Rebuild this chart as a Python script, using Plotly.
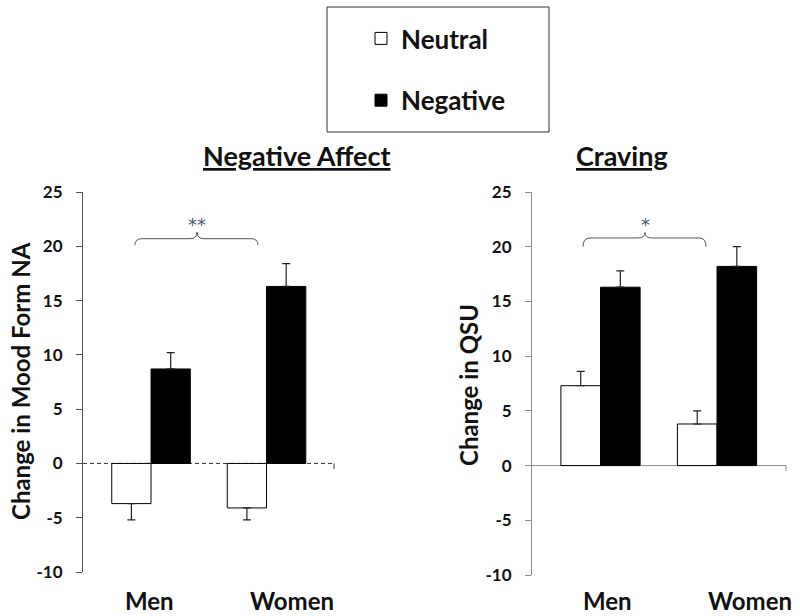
import plotly.graph_objects as go
from plotly.subplots import make_subplots

groups = ["Men", "Women"]
x_pos = [0, 1]

na_neutral = [-3.7, -4.1]
na_neutral_err = [1.5, 1.1]
na_negative = [8.7, 16.3]
na_negative_err = [1.5, 2.1]

qsu_neutral = [7.3, 3.8]
qsu_neutral_err = [1.3, 1.2]
qsu_negative = [16.3, 18.2]
qsu_negative_err = [1.5, 1.8]

y_ticks = [-10, -5, 0, 5, 10, 15, 20, 25]
y_tick_text = ["-10", "-5", "0", "5", "10", "15", "20", "25"]

FONT = "Lato"


def err_bars(values, errs):
    # one-sided bars, pointing away from zero
    plus = [e if v >= 0 else 0 for v, e in zip(values, errs)]
    minus = [e if v < 0 else 0 for v, e in zip(values, errs)]
    return dict(type="data", symmetric=False, array=plus, arrayminus=minus,
                color="#222222", thickness=1.2, width=4)


def brace(x0, x1, xm, ye, yf, yp, d):
    return (f"M{x0},{ye} Q{x0},{yf} {x0 + d},{yf} L{xm - d},{yf} "
            f"Q{xm},{yf} {xm},{yp} Q{xm},{yf} {xm + d},{yf} "
            f"L{x1 - d},{yf} Q{x1},{yf} {x1},{ye}")


fig = make_subplots(rows=1, cols=2)

panels = [
    (1, na_neutral, na_neutral_err, na_negative, na_negative_err),
    (2, qsu_neutral, qsu_neutral_err, qsu_negative, qsu_negative_err),
]
for col, neu, neu_err, neg, neg_err in panels:
    fig.add_trace(go.Bar(
        x=x_pos, y=neu, name="Neutral",
        marker=dict(color="white", line=dict(color="black", width=1)),
        error_y=err_bars(neu, neu_err),
        showlegend=(col == 1), legendgroup="neutral",
    ), row=1, col=col)
    fig.add_trace(go.Bar(
        x=x_pos, y=neg, name="Negative",
        marker=dict(color="black", line=dict(color="black", width=1)),
        error_y=err_bars(neg, neg_err),
        showlegend=(col == 1), legendgroup="negative",
    ), row=1, col=col)

axis_col = ["#505050", "#8a8a8a"]
x_ranges = [[-0.589, 1.584], [-0.588, 1.592]]
x_domains = [[83 / 800, 334 / 800], [532 / 800, 786 / 800]]
y_domains = [[44 / 616, 424 / 616], [41 / 616, 424 / 616]]

for i in range(2):
    fig.update_xaxes(range=x_ranges[i], domain=x_domains[i], visible=False,
                     row=1, col=i + 1)
    fig.update_yaxes(
        range=[-10, 25], tickvals=y_ticks, ticktext=y_tick_text,
        domain=y_domains[i],
        showgrid=False, zeroline=False, automargin=False,
        showline=True, linecolor=axis_col[i], linewidth=1,
        ticks="outside", ticklen=6, tickcolor=axis_col[i],
        ticklabelstandoff=10,
        tickfont=dict(family=FONT, size=17, color="#111111", weight="bold"),
        row=1, col=i + 1,
    )

# zero lines (dashed on the left panel) with end tick
fig.add_shape(type="line", xref="x domain", yref="y", x0=0, x1=1, y0=0, y1=0,
              line=dict(color="#333333", width=1, dash="4px,3px"), layer="below")
fig.add_shape(type="line", xref="x domain", yref="y", x0=1, x1=1, y0=0, y1=-0.5,
              line=dict(color="#333333", width=1))
fig.add_shape(type="line", xref="x2 domain", yref="y2", x0=0, x1=1, y0=0, y1=0,
              line=dict(color=axis_col[1], width=1), layer="below")
fig.add_shape(type="line", xref="x2 domain", yref="y2", x0=1, x1=1, y0=0, y1=-0.5,
              line=dict(color=axis_col[1], width=1))

# significance braces
fig.add_shape(type="path", xref="x", yref="y",
              path=brace(-0.139, 0.926, 0.398, 20.1, 20.7, 21.3, 0.06),
              line=dict(color="#555555", width=1))
fig.add_shape(type="path", xref="x2", yref="y2",
              path=brace(-0.150, 0.906, 0.382, 20.0, 20.8, 21.3, 0.06),
              line=dict(color="#555555", width=1))
fig.add_annotation(text="**", xref="x", yref="y", x=0.398, y=22.0,
                   showarrow=False, font=dict(family="DejaVu Sans", size=18, color="#4a5670"))
fig.add_annotation(text="*", xref="x2", yref="y2", x=0.382, y=22.0,
                   showarrow=False, font=dict(family="DejaVu Sans", size=18, color="#4a5670"))

# group labels under each panel
label_offsets = [[-0.017, 0.22], [0.056, 0.28]]
for i, xr in enumerate(["x", "x2"]):
    for j, g in enumerate(groups):
        fig.add_annotation(text=g, xref=xr, yref="paper",
                           x=x_pos[j] + label_offsets[i][j], y=1 - 600 / 616,
                           yanchor="middle", showarrow=False,
                           font=dict(family=FONT, size=24, color="#111111", weight="bold"))

# panel titles and y axis titles
titles = [("<u>Negative Affect</u>", 201), ("<u>Craving</u>", 670)]
for text, xp in titles:
    fig.add_annotation(text=text, xref="paper", yref="paper", x=xp / 800,
                       y=1 - 155 / 616, yanchor="middle", showarrow=False,
                       font=dict(family=FONT, size=27, color="#111111", weight="bold"))

ytitles = [("Change in Mood Form NA", 20, 381), ("Change in QSU", 468, 385)]
for text, xp, yp in ytitles:
    fig.add_annotation(text=text, xref="paper", yref="paper", x=xp / 800,
                       y=1 - yp / 616, textangle=-90, xanchor="center",
                       yanchor="middle", showarrow=False,
                       font=dict(family=FONT, size=24, color="#111111", weight="bold"))

# legend frame
fig.add_shape(type="rect", xref="paper", yref="paper",
              x0=327 / 800, x1=549 / 800, y0=1 - 132 / 616, y1=1 - 7 / 616,
              line=dict(color="#333333", width=1))

fig.update_layout(
    width=800, height=616,
    margin=dict(l=0, r=0, t=0, b=0, autoexpand=False),
    plot_bgcolor="white", paper_bgcolor="white",
    barmode="group", bargap=0.32, bargroupgap=0,
    legend=dict(x=361 / 800, y=1 - 15 / 616, xanchor="left", yanchor="top",
                tracegroupgap=25, bgcolor="rgba(0,0,0,0)",
                font=dict(family=FONT, size=26, color="#111111", weight="bold")),
)

fig.write_html("out.html", config={"displayModeBar": False},
               post_script="document.body.style.margin='0';")
